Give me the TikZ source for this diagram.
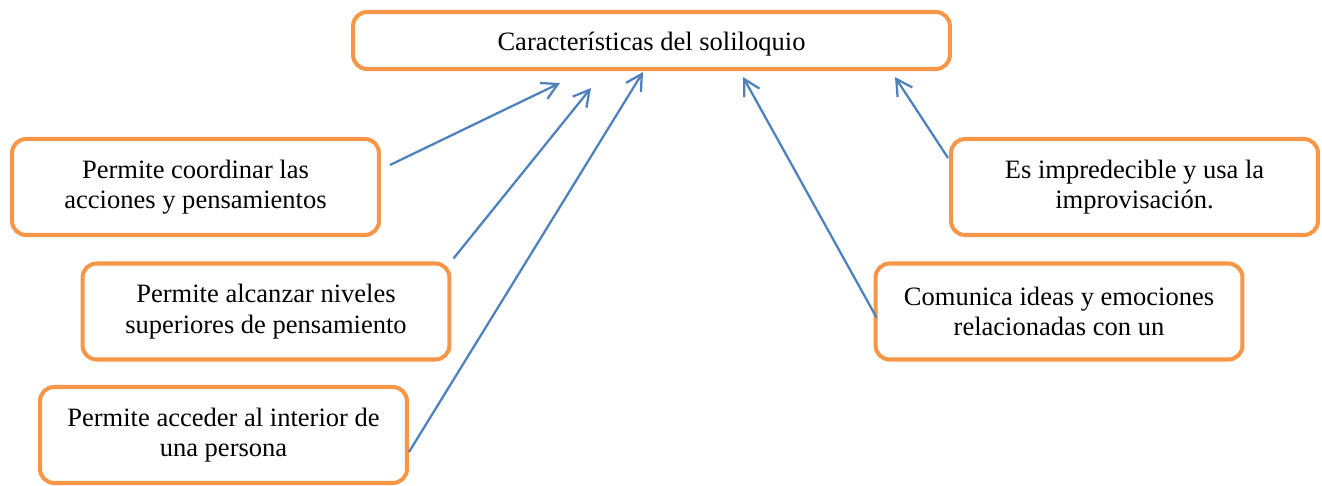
\documentclass[tikz,border=0pt]{standalone}
\usepackage{fontspec}
\setmainfont{Liberation Serif}
\usetikzlibrary{calc}
\usetikzlibrary{arrows.meta}
\definecolor{boxorange}{HTML}{F79646}
\definecolor{arrowblue}{HTML}{4F81BD}
\tikzset{>=latex}
\tikzset{
    featbox/.style={draw=boxorange, line width=2.3pt, rounded corners=8pt, fill=white,
        minimum width=7.34cm, minimum height=1.92cm, align=center, inner sep=0pt,
        font=\fontsize{15.1}{17.3}\selectfont},
    titlebox/.style={featbox, minimum width=11.94cm, minimum height=1.14cm,
        text height=14pt, text depth=3pt},
    featarrow/.style={draw=arrowblue, line width=1.3pt, -{Straight Barb[length=9pt,width=10pt,line width=1.3pt]}},
}
\begin{document}
\begin{tikzpicture}[x=0.02cm, y=-0.02cm]
    \useasboundingbox (0,0) rectangle (1322,486);
    % title
    \node[titlebox] (title) at (651.5,40.5) {Características del soliloquio};
    % left side
    \node[featbox] (coord) at (195.5,187) {Permite coordinar las\\acciones y pensamientos};
    \node[featbox] (niveles) at (266,311.5) {Permite alcanzar niveles\\superiores de pensamiento};
    \node[featbox] (interior) at (223.5,435) {Permite acceder al interior de\\una persona};
    % right side
    \node[featbox] (impro) at (1134.5,187) {Es impredecible y usa la\\improvisación.};
    \node[featbox] (ideas) at (1059,311.5) {Comunica ideas y emociones\\relacionadas con un};
    % heads below the title
    \coordinate (h1) at (560,83);
    \coordinate (h2) at (591,88);
    \coordinate (h3) at (643,72);
    \coordinate (h4) at (743,77);
    \coordinate (h5) at (895,77);
    \draw[featarrow] ($(coord.east)+(9,-22)$) -- (h1);
    \draw[featarrow] ($(niveles.north east)+(2,-3)$) -- (h2);
    \draw[featarrow] ($(interior.east)+(0,17)$) -- (h3);
    \draw[featarrow] ($(ideas.west)+(3,6)$) -- (h4);
    \draw[featarrow] ($(impro.west)+(-1,-29)$) -- (h5);
\end{tikzpicture}
\end{document}
